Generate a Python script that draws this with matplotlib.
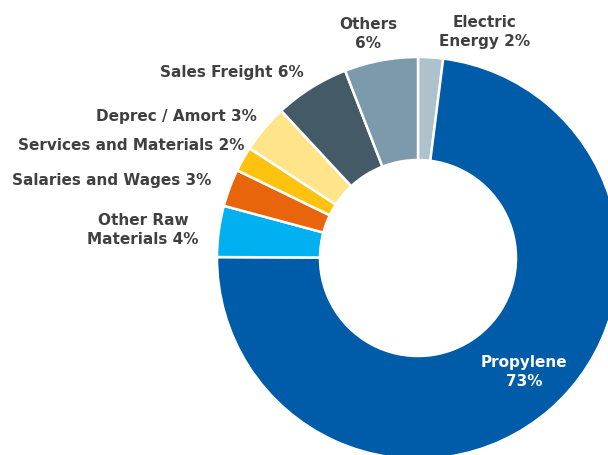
import matplotlib.pyplot as plt

# cost breakdown (slices clockwise from 12 o'clock)
names = ["Electric\nEnergy 2%", "Propylene\n73%", "Other Raw\nMaterials 4%",
         "Salaries and Wages 3%", "Services and Materials 2%",
         "Deprec / Amort 3%", "Sales Freight 6%", "Others\n6%"]
shares = [2.0, 73.0, 4.1, 3.0, 2.0, 3.9, 6.0, 5.9]
colors = ["#adc2cd", "#005ca9", "#00b0f0", "#e8650c", "#ffc20e",
          "#ffe48a", "#445a66", "#7b9aac"]

# label placement (pixel coords, y down) and alignment
label_pos = [(485, 32), (524, 372), (143, 230), (211, 180), (244, 145),
             (257, 116), (304, 72), (368, 34)]
label_ha = ["center", "center", "center", "right", "right", "right", "right", "center"]

W, H = 608, 455
fig = plt.figure(figsize=(W / 100, H / 100), dpi=100)
ax = fig.add_axes([0, 0, 1, 1])

cx, cy, r_out, r_in = 418, 258, 201, 98
ax.pie(shares, colors=colors, startangle=90, counterclock=False,
       center=(cx, H - cy), radius=r_out, frame=True,
       wedgeprops=dict(width=r_out - r_in, edgecolor="white", linewidth=1.8))
ax.set_xlim(0, W)
ax.set_ylim(0, H)
ax.set_aspect("equal")
ax.axis("off")

for i, name in enumerate(names):
    x, y = label_pos[i]
    col = "white" if i == 1 else "#404040"
    ax.text(x, H - y, name, ha=label_ha[i], va="center", fontsize=11,
            fontweight="bold", color=col, linespacing=1.3,
            multialignment="center")

fig.savefig("out.png", dpi=100)
